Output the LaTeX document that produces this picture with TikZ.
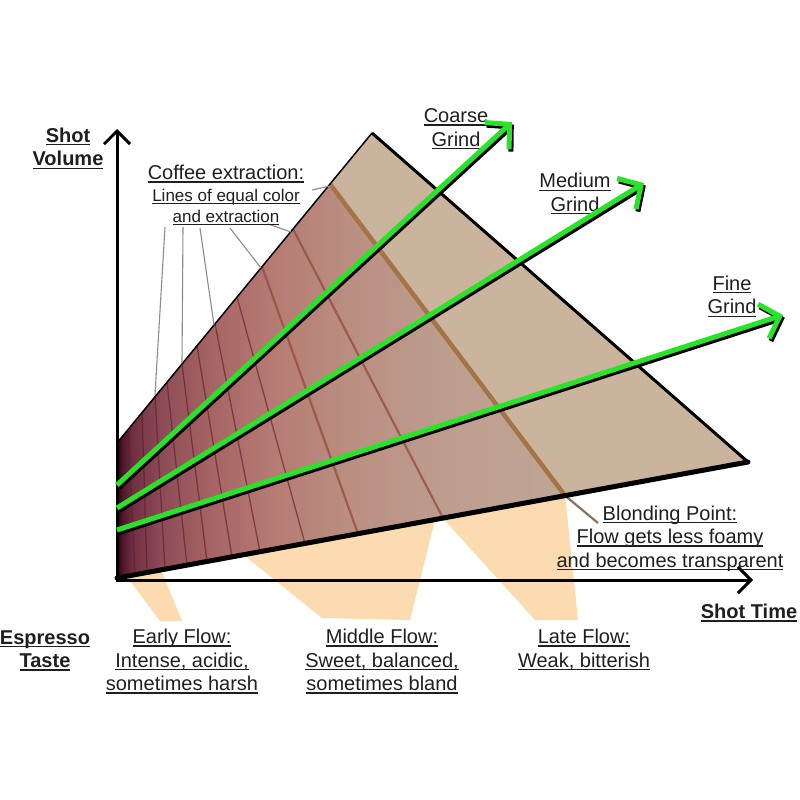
\documentclass[tikz,border=0pt]{standalone}
\usepackage{fontspec}
\setmainfont{Liberation Sans}
\usetikzlibrary{arrows.meta,calc}
\definecolor{peach}{RGB}{252,219,176}
\definecolor{tanr}{RGB}{203,180,157}
\definecolor{grn}{RGB}{40,228,40}
\definecolor{bandc}{RGB}{95,32,45}
\definecolor{bandr}{RGB}{150,72,60}
\definecolor{brownb}{RGB}{165,115,70}
\definecolor{leadc}{RGB}{140,140,140}
\definecolor{pointc}{RGB}{140,115,95}
\pgfdeclarehorizontalshading{wedgeshade}{100bp}{%
rgb(0bp)=(0.12,0.01,0.05);
rgb(25bp)=(0.12,0.01,0.05);
rgb(25.56bp)=(0.30,0.08,0.15);
rgb(26.7bp)=(0.44,0.18,0.26);
rgb(29.8bp)=(0.55,0.29,0.34);
rgb(35.4bp)=(0.65,0.39,0.39);
rgb(42.1bp)=(0.71,0.48,0.45);
rgb(51bp)=(0.73,0.56,0.51);
rgb(62.2bp)=(0.74,0.62,0.56);
rgb(75bp)=(0.75,0.65,0.58);
rgb(100bp)=(0.75,0.65,0.58)}
\newcommand{\ulin}[1]{\setbox0=\hbox{#1}\rlap{\rule[-3pt]{\wd0}{1.4pt}}\box0}
\tikzset{
  lbl/.style={font=\fontsize{20}{23.5}\selectfont, align=center, inner sep=0pt, text=black!88},
  blbl/.style={lbl, font=\fontsize{20}{23.5}\selectfont\bfseries},
  smalllbl/.style={lbl, font=\fontsize{17}{21}\selectfont},
  axisline/.style={line width=3pt, black, -{Straight Barb[length=13pt,width=26pt]}},
  garrow/.style={line width=5pt, grn, -{Straight Barb[length=17pt,width=36pt]}},
  gshadow/.style={line width=5pt, black, -{Straight Barb[length=17pt,width=36pt]}, transform canvas={shift={(1.8,2.6)}}},
  leader/.style={leadc, line width=1.1pt},
  bandline/.style={bandc, line width=1.3pt, opacity=0.65},
  peachfill/.style={fill=peach, draw=none}
}
\begin{document}
\begin{tikzpicture}[x=1pt,y=-1pt]
\useasboundingbox (0,0) rectangle (800,800);
\fill[white] (0,0) rectangle (800,800);
% key points
\coordinate (O) at (117,580);
\coordinate (UL) at (117,443);
\coordinate (AP) at (372,133);
\coordinate (RT) at (748,462);
\coordinate (BL) at (117,578);
\coordinate (BRt) at (330,184.05);
\coordinate (BRb) at (565,495.6);
% peach flow regions
\path[peachfill] (116,562) -- (159,565) -- (182,621) -- (160,621) -- cycle;
\path[peachfill] (240,552) -- (435,520) -- (410,620) -- (322,618) -- cycle;
\path[peachfill] (440,515) -- (565,495) -- (578,620) -- (535,620) -- cycle;
% wedge fill
\shade[shading=wedgeshade] (UL) -- (BRt) -- (BRb) -- (BL) -- cycle;
\fill[tanr] (BRt) -- (AP) -- (RT) -- (BRb) -- cycle;
% bands
\begin{scope}
\clip (UL) -- (AP) -- (RT) -- (BL) -- cycle;
\foreach \a/\b in {128/135,142/147,155/165,167/187,182/207,197/232,215/260,237/305}
  \draw[bandline] ({\a},{443-1.2157*(\a-117)}) -- ({\b},{578-0.1838*(\b-117)});
\foreach \a/\b in {262/358,293/443}
  \draw[bandr, line width=2.2pt, opacity=0.75] ({\a},{443-1.2157*(\a-117)}) -- ({\b},{578-0.1838*(\b-117)});
\draw[brownb, line width=4.5pt] (BRt) -- (BRb);
\end{scope}
% blonding pointer
\coordinate (bp) at (598,523);
\draw[pointc, line width=2.2pt] (BRb) -- (bp);
% wedge outline
\draw[black, line width=1.5pt, line join=round] (UL) -- (AP);
\draw[black, line width=3pt, line join=round] (AP) -- (RT);
\draw[black, line width=5pt, line cap=round] (RT) -- (BL);
% leader lines
\coordinate (t1) at (165,227); \coordinate (e1) at (155,395);
\coordinate (t2) at (183,227); \coordinate (e2) at (182,363);
\coordinate (t3) at (200,228); \coordinate (e3) at (214,325);
\coordinate (t4) at (230,228); \coordinate (e4) at (261,268);
\coordinate (t5) at (268,224); \coordinate (e5) at (291,232);
\coordinate (t6) at (312,190); \coordinate (e6) at (330,186);
\foreach \i in {1,...,6} \draw[leader] (t\i) -- (e\i);
% axes
\coordinate (ytip) at (117,129);
\coordinate (xtip) at (753,580);
\draw[axisline] (117,581.5) -- (ytip);
\draw[axisline] (115.5,580) -- (xtip);
% labels
\node[blbl] (shotvol) at (68,148.5) {\ulin{Shot}\\\ulin{Volume}};
\node[lbl] (coffee) at (226,174) {\ulin{Coffee extraction:}};
\node[smalllbl] (coffee2) at (226,207) {\ulin{Lines of equal color}\\\ulin{and extraction}};
\node[lbl] (coarse) at (456,129) {\ulin{Coarse}\\\ulin{Grind}};
\node[lbl] (medium) at (575,194) {\ulin{Medium}\\\ulin{Grind}};
\node[lbl] (fine) at (732,296.5) {\ulin{Fine}\\\ulin{Grind}};
\node[lbl] (blond) at (670,538.5) {\ulin{Blonding Point:}\\\ulin{Flow gets less foamy}\\\ulin{and becomes transparent}};
\node[blbl] (shottime) at (749,613) {\ulin{Shot Time}};
\node[blbl] (espresso) at (45,650.5) {\ulin{Espresso}\\\ulin{Taste}};
\node[lbl] (early) at (182,661.5) {\ulin{Early Flow:}\\\ulin{Intense, acidic,}\\\ulin{sometimes harsh}};
\node[lbl] (middle) at (382,661.5) {\ulin{Middle Flow:}\\\ulin{Sweet, balanced,}\\\ulin{sometimes bland}};
\node[lbl] (late) at (584,649.5) {\ulin{Late Flow:}\\\ulin{Weak, bitterish}};
% green grind arrows
\coordinate (g1s) at (117,485); \coordinate (g1e) at (512,122);
\coordinate (g2s) at (117,508); \coordinate (g2e) at (644,183);
\coordinate (g3s) at (117,530); \coordinate (g3e) at (783,315);
\foreach \i in {1,2,3} \draw[gshadow] (g\i s) -- (g\i e);
\foreach \i in {1,2,3} \draw[garrow] (g\i s) -- (g\i e);
\end{tikzpicture}
\end{document}
